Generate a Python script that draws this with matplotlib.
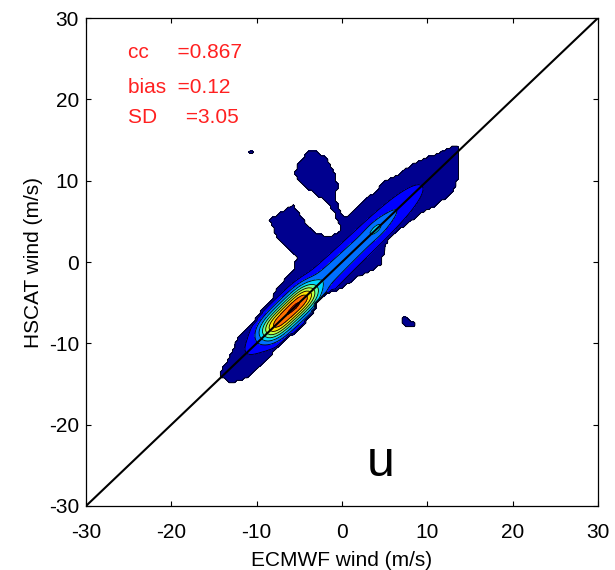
import numpy as np
import matplotlib
matplotlib.use("Agg")
import matplotlib.pyplot as plt
from matplotlib.path import Path

# Outer (lowest-level) boundary of the joint u-wind distribution, (ECMWF, HSCAT) in m/s
outer_x = [-14.3, -12.9, -10.8, -9.2, -7.65, -5.3, -3.75, -3.0, -1.8, 0.15, 1.7, 3.7,
           4.65, 4.85, 5.2, 6.4, 7.6, 9.14, 10.7, 12.3, 13.45, 13.6, 13.8, 13.45,
           10.7, 8.35, 6.8, 5.2, 3.7, 2.1, 0.5,
           -0.2, -0.7, -0.55, -0.9, -1.6, -2.8, -3.75,
           -5.3, -5.5, -4.9, -3.75, -2.0, -1.05, -0.47, -0.1,
           -0.1, -1.4, -2.8, -3.75, -4.7, -5.75, -8.45,
           -7.6, -6.1, -5.3, -5.6, -6.7, -7.6, -8.1, -9.4, -10.4, -12.0, -13.1, -14.1]
outer_y = [-14.1, -14.9, -14.1, -12.5, -10.4, -8.4, -6.7, -5.1, -3.85, -3.0, -1.8, -1.0,
           -0.2, 1.07, 2.7, 3.9, 4.75, 6.0, 6.8, 8.0, 9.3, 11.3, 13.8, 14.4,
           13.15, 12.1, 10.9, 10.1, 8.45, 7.2, 5.5,
           6.1, 7.6, 9.5, 11.1, 12.5, 13.5, 13.8,
           11.9, 10.7, 9.7, 8.85, 7.6, 6.4, 4.9, 4.05,
           3.8, 3.2, 3.4, 4.05, 5.4, 7.0, 5.2,
           3.1, 1.5, 0.6, -1.0, -2.2, -3.2, -4.7, -6.1, -7.5, -9.2, -11.7, -13.3]

island_x = [7.1, 7.7, 8.1, 8.6, 8.6, 7.6, 7.1]
island_y = [-6.7, -6.8, -7.3, -7.5, -8.0, -7.9, -7.5]

speck_x = [-10.8, -10.4, -10.4, -10.8]
speck_y = [13.4, 13.4, 13.8, 13.8]

# Inner density components along the 1:1 line (counts); shape 2 = gaussian, >2 = flat-topped
comp_x = [-0.65, -6.2, -6.2, 4.0]
comp_y = [-0.65, -6.2, -6.2, 4.1]
comp_amp = [25.0, 5.0, 53.0, 9.0]
comp_sig_along = [12.2, 5.0, 3.5, 1.0]
comp_sig_across = [1.2, 1.9, 1.0, 0.45]
comp_shape = [4, 2, 4, 2]

contour_levels = [1, 10, 20, 30, 40, 50, 60, 70, 80, 90, 100]
band_colors = ["#00008f", "#0000ff", "#0070ff", "#00d8ff", "#60ffa0",
               "#c0ff40", "#ffe000", "#ff7000", "#ff2000", "#c00000"]

stats_labels = ["cc     =0.867", "bias  =0.12", "SD     =3.05"]
stats_y = [25.7, 21.5, 17.8]
panel_label = "u"

xticks = [-30, -20, -10, 0, 10, 20, 30]
yticks = [-30, -20, -10, 0, 10, 20, 30]

plt.rcParams["font.family"] = ["Liberation Sans", "DejaVu Sans"]
plt.rcParams["axes.unicode_minus"] = False

fig = plt.figure(figsize=(6.15, 5.70), dpi=100)
ax = fig.add_axes([0.1398, 0.1123, 0.8325, 0.8561])

gx = np.arange(-30, 30.001, 0.3)
X, Y = np.meshgrid(gx, gx)
pts = np.column_stack([X.ravel(), Y.ravel()])
inside = np.zeros(X.size, dtype=bool)
for px, py in [(outer_x, outer_y), (island_x, island_y), (speck_x, speck_y)]:
    inside |= Path(np.column_stack([px, py])).contains_points(pts)
inside = inside.reshape(X.shape)

Zg = np.zeros_like(X)
for x0, y0, a, sa, sc, p in zip(comp_x, comp_y, comp_amp, comp_sig_along,
                                comp_sig_across, comp_shape):
    dx, dy = X - x0, Y - y0
    u = (dx + dy) / np.sqrt(2)
    v = (dy - dx) / np.sqrt(2)
    Zg += a * np.exp(-0.5 * (np.abs(u / sa) ** p + (v / sc) ** 2))
Z = np.where(inside, np.maximum(2.0, Zg), 0.0)

ax.contourf(X, Y, Z, levels=contour_levels, colors=band_colors, extend="max")
ax.contour(X, Y, Z, levels=contour_levels, colors="k", linewidths=0.6)

ax.plot([-30, 30], [-30, 30], color="k", lw=1.5)

ax.set_xlim(-30, 30)
ax.set_ylim(-30, 30)
ax.set_xticks(xticks)
ax.set_yticks(yticks)
ax.tick_params(axis="x", pad=12)
ax.tick_params(axis="y", pad=5)
ax.tick_params(direction="in", top=True, right=True, labelsize=15, length=3.5, width=0.8)
for s in ax.spines.values():
    s.set_linewidth(0.9)
ax.set_xlabel("ECMWF wind (m/s)", fontsize=15, labelpad=7)
ax.set_ylabel("HSCAT wind (m/s)", fontsize=15, labelpad=4)

for s, yv in zip(stats_labels, stats_y):
    ax.text(-25.1, yv, s, color="#ff2020", fontsize=15, va="center", ha="left")
ax.text(4.5, -24.7, panel_label, fontsize=36, ha="center", va="center")

fig.savefig("out.png", dpi=100)
